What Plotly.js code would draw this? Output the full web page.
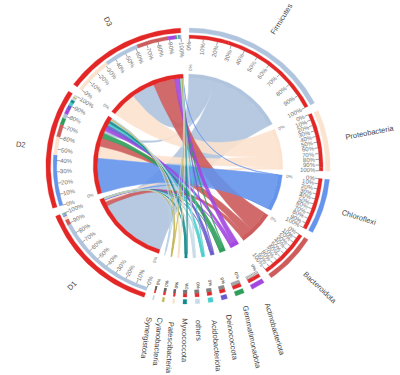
<!DOCTYPE html>
<html><head><meta charset="utf-8">
<script src="https://cdn.plot.ly/plotly-3.0.1.min.js"></script>
<style>body{margin:0;background:#fff}#chart{width:400px;height:375px}</style>
</head><body><div id="chart"></div>
<script>
// ---------------- data ----------------
const samples = ['D1', 'D2', 'D3'];
const phyla = ['Firmicutes', 'Proteobacteria', 'Chloroflexi', 'Bacteroidota', 'Actinobacteriota',
  'Gemmatimonadota', 'Deinococcota', 'Acidobacteriota', 'others', 'Myxococcota',
  'Patescibacteria', 'Cyanobacteria', 'Synergistota'];
// relative abundance (%) of each phylum (phyla order) in each sample
const D1 = [89, 3, 0.5, 5, 0.5, 0.3, 0.2, 0.3, 0.5, 0.2, 0.3, 0.1, 0.1];
const D2 = [4, 16, 45, 11, 4, 6, 4, 3, 2, 2.5, 0.8, 1, 0.7];
const D3 = [30, 32, 0.2, 27, 6.5, 1, 0.5, 0.6, 1, 0.3, 0.3, 0.5, 0.1];
const tickLabels = ['0%', '10%', '20%', '30%', '40%', '50%', '60%', '70%', '80%', '90%', '100%'];
const phylaColors = ['#b0c4de', '#fce3cf', '#6494ec', '#cd5c5c', '#a347e0', '#2e9e5a', '#6a5acd',
  '#48cccc', '#c6dbe8', '#138a8a', '#f3e2c0', '#c2b552', '#b9d3e6'];
const sampleColor = '#e32626';

// ---------------- geometry ----------------
const GAP = 3.5, START = 0.5, XS = 1.03;
const sampleVals = [D1, D2, D3];
const phylaTotals = phyla.map((_, j) => sampleVals.reduce((s, v) => s + v[j], 0));
const sampleTotals = sampleVals.map(v => v.reduce((a, b) => a + b, 0));
const names = phyla.concat(samples);
const totals = phylaTotals.concat(sampleTotals);
const ownColors = phylaColors.concat(samples.map(() => sampleColor));
const grand = totals.reduce((a, b) => a + b, 0);
const k = (360 - GAP * totals.length) / grand;
let acc = START;
const sec = totals.map(t => { const s = {start: acc, end: acc + t * k}; acc += t * k + GAP; return s; });
const NP = phyla.length;

const links = [];
sampleVals.forEach((vals, si) => {
  const order = vals.map((v, j) => j).sort((x, y) => vals[y] - vals[x]);
  let pos = sec[NP + si].start;
  order.forEach(j => { const w = vals[j] * k; links.push({si, pj: j, a1: pos, a2: pos + w}); pos += w; });
});
phyla.forEach((p, j) => {
  let pos = sec[j].start;
  [2, 1, 0].forEach(si => {
    const w = sampleVals[si][j] * k;
    const L = links.find(l => l.si === si && l.pj === j);
    L.b1 = pos; L.b2 = pos + w; pos += w;
  });
});

const rad = d => d * Math.PI / 180;
const P = (r, t) => [r * Math.sin(rad(t)), r * Math.cos(rad(t))];
function arcPts(r, t1, t2) {
  const n = Math.max(2, Math.ceil(Math.abs(t2 - t1) / 1));
  const out = [];
  for (let i = 0; i <= n; i++) out.push(P(r, t1 + (t2 - t1) * i / n));
  return out;
}
function bez(p0, p1, p2) {
  const out = [];
  for (let i = 1; i < 40; i++) {
    const t = i / 40, u = 1 - t;
    out.push([u * u * p0[0] + 2 * u * t * p1[0] + t * t * p2[0], u * u * p0[1] + 2 * u * t * p1[1] + t * t * p2[1]]);
  }
  return out;
}
function annulus(r1, r2, t1, t2) {
  const pts = arcPts(r2, t1, t2).concat(arcPts(r1, t2, t1));
  pts.push(pts[0]);
  return pts;
}
function ribbon(a1, a2, b1, b2, R) {
  let pts = arcPts(R, a1, a2);
  pts = pts.concat(bez(P(R, a2), [0, 0], P(R, b1)));
  pts = pts.concat(arcPts(R, b1, b2));
  pts = pts.concat(bez(P(R, b2), [0, 0], P(R, a1)));
  pts.push(pts[0]);
  return pts;
}
const traces = [];
function poly(pts, color, lw, opacity) {
  traces.push({type: 'scatter', mode: 'lines', x: pts.map(p => p[0]), y: pts.map(p => p[1]),
    fill: 'toself', fillcolor: color, line: {color: color, width: lw || 0}, opacity: opacity || 1,
    hoverinfo: 'skip', showlegend: false});
}

// radii
const R_IN1 = 88, R_IN2 = 92;      // inner track
const R_BAR1 = 127.5, R_BAR2 = 131; // composition bar
const R_OUT1 = 133.5, R_OUT2 = 138; // outer track
const R_TICK1 = 124, R_TICK2 = 127.5;

// chords (drawing order of phyla)
const drawOrder = [0, 1, 3, 2, 4, 5, 6, 7, 8, 9, 10, 11, 12];
drawOrder.forEach(j => {
  [0, 1, 2].forEach(si => {
    const L = links.find(l => l.si === si && l.pj === j);
    if (sampleVals[si][j] <= 0) return;
    poly(ribbon(L.a1, L.a2, L.b1, L.b2, R_IN1), phylaColors[j], 0.6, 0.9);
  });
});

// tracks
names.forEach((n, i) => {
  const s = sec[i];
  poly(annulus(R_OUT1, R_OUT2, s.start, s.end), ownColors[i], 0.3);
  poly(annulus(R_IN1, R_IN2, s.start, s.end), ownColors[i], 0.3);
});
links.forEach(L => {
  if (sampleVals[L.si][L.pj] <= 0) return;
  poly(annulus(R_BAR1, R_BAR2, L.a1, L.a2), phylaColors[L.pj], 0.3);
  poly(annulus(R_BAR1, R_BAR2, L.b1, L.b2), sampleColor, 0.3);
});

// ticks
const tx = [], ty = [];
names.forEach((n, i) => {
  const s = sec[i];
  tickLabels.forEach((lab, q) => {
    const t = s.start + (s.end - s.start) * q / (tickLabels.length - 1);
    const a = P(R_TICK1, t), b = P(R_TICK2, t);
    tx.push(a[0], b[0], null); ty.push(a[1], b[1], null);
  });
});
traces.push({type: 'scatter', mode: 'lines', x: tx, y: ty, line: {color: '#666', width: 0.6},
  hoverinfo: 'skip', showlegend: false});

// annotations
const FONT = 'Arial, "Liberation Sans", sans-serif';
const ann = [];
function addText(text, r, t, size, color, angle) {
  const p = P(r, t);
  ann.push({x: p[0], y: p[1], xref: 'x', yref: 'y', text: text, showarrow: false,
    xanchor: 'center', yanchor: 'middle', textangle: angle,
    font: {family: FONT, size: size, color: color}});
}
const TF = 6;
names.forEach((n, i) => {
  const s = sec[i];
  const span = s.end - s.start;
  tickLabels.forEach((lab, q) => {
    if (span < 8 && q > 0) return;
    const t = s.start + span * q / (tickLabels.length - 1);
    const w = lab.length * TF * 0.56;
    const ang = t < 180 ? t - 90 : t - 270;
    addText(lab, 123 - w / 2, t, span < 8 ? 4.5 : TF, span < 8 ? '#222' : '#707070', ang);
  });
  if (span >= 8) {
    const ang = s.start < 180 ? s.start - 90 : s.start - 270;
    addText('0%', 99, s.start + 0.6, 4.5, '#777', ang);
  }
  // sector name
  const mid = (s.start + s.end) / 2;
  const NF = 7.5;
  const w = n.length * NF * 0.55;
  if (i >= NP) {
    addText(n, 164, mid, NF, '#444', mid - 270);
  } else {
    let ang = mid - 90;
    if (mid > 140) ang = 90 + (mid - 180) * 0.55;
    // place text along its own direction starting near r = 152
    const p0 = P(152, mid);
    const c = [p0[0] + (w / 2) * Math.cos(rad(ang)) / XS, p0[1] - (w / 2) * Math.sin(rad(ang))];
    ann.push({x: c[0], y: c[1], xref: 'x', yref: 'y', text: n, showarrow: false,
      xanchor: 'center', yanchor: 'middle', textangle: ang,
      font: {family: FONT, size: NF, color: '#444'}});
  }
});

const layout = {
  width: 400, height: 375, margin: {l: 0, r: 0, t: 0, b: 0},
  paper_bgcolor: '#ffffff', plot_bgcolor: '#ffffff', showlegend: false,
  xaxis: {range: [-188 / XS, 212 / XS], visible: false, fixedrange: true},
  yaxis: {range: [-209, 166], visible: false, fixedrange: true},
  annotations: ann
};
Plotly.newPlot('chart', traces, layout, {staticPlot: true, displayModeBar: false});
</script>
</body></html>
